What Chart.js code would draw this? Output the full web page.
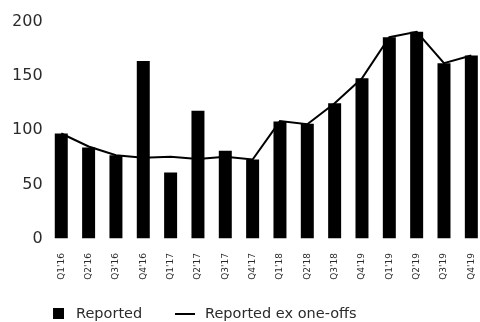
<!DOCTYPE html>
<html>
<head>
<meta charset="utf-8">
<script src="https://cdn.jsdelivr.net/npm/chart.js@4.4.1/dist/chart.umd.min.js"></script>
<style>
  html, body { margin: 0; padding: 0; background: #fff; overflow: hidden; }
  #wrap { position: relative; width: 486px; height: 331px; }
</style>
</head>
<body>
<div id="wrap"><canvas id="chart"></canvas></div>
<script>
// Quarterly figures
const quarters = ["Q1'16", "Q2'16", "Q3'16", "Q4'16", "Q1'17", "Q2'17", "Q3'17", "Q4'17",
                  "Q1'18", "Q2'18", "Q3'18", "Q4'19", "Q1'19", "Q2'19", "Q3'19", "Q4'19"];
const reported   = [97, 84, 77, 164, 61, 118, 81, 73, 108, 106, 125, 148, 186, 191, 162, 169];
const exOneOffs  = [97, 85, 77, 74.5, 75.5, 73.5, 75.5, 73, 108.5, 105.5, 125, 148, 186, 191, 162, 169];
const seriesNames = ['Reported', 'Reported ex one-offs'];
const yTicks = [0, 50, 100, 150, 200];

const FONT = '"DejaVu Sans", sans-serif';
const TEXT = '#2b2b2b';
const LEGEND_SIZE = 14.5;

// Legend geometry: box slot width and spacing derived from the measured label width
const meas = document.createElement('canvas').getContext('2d');
meas.font = LEGEND_SIZE + 'px ' + FONT;
const firstW = meas.measureText(seriesNames[0]).width;
const legPad = 10;
const half = LEGEND_SIZE / 2;
const text1X = 76, text2X = 205;
const slot = text2X - text1X - firstW - half - legPad;
const leftPad = text1X - half - legPad - slot;
const plotLeft = 47.6;

function makeSwatch(center, from, to, h) {
  const w = Math.max(2, Math.round(2 * (to - center)));
  const c = document.createElement('canvas');
  c.width = w; c.height = h;
  const g = c.getContext('2d');
  g.fillStyle = '#000';
  const x0 = from - (center - w / 2);
  g.fillRect(x0, 0, to - from, h);
  return c;
}
const c1 = leftPad + legPad + slot / 2;
const c2 = text2X - half - slot / 2;
const rectSwatch = makeSwatch(c1, 53, 64, 11);
const lineSwatch = makeSwatch(c2, 175, 195, 2);

new Chart(document.getElementById('chart'), {
  type: 'bar',
  data: {
    labels: quarters,
    datasets: [
      {
        type: 'line',
        label: seriesNames[1],
        data: exOneOffs,
        borderColor: '#000',
        borderWidth: 2,
        pointRadius: 0,
        tension: 0,
        fill: false,
        order: 0
      },
      {
        type: 'bar',
        label: seriesNames[0],
        data: reported,
        backgroundColor: '#000',
        barPercentage: 0.475,
        categoryPercentage: 1,
        order: 1
      }
    ]
  },
  options: {
    responsive: true,
    maintainAspectRatio: false,
    animation: false,
    layout: { padding: { top: 22, left: leftPad, right: 1, bottom: 0 } },
    plugins: {
      tooltip: { enabled: false },
      legend: {
        position: 'bottom',
        align: 'start',
        labels: {
          usePointStyle: true,
          pointStyleWidth: slot,
          padding: legPad,
          color: TEXT,
          font: { family: FONT, size: LEGEND_SIZE },
          generateLabels: () => [
            { text: seriesNames[0], pointStyle: rectSwatch, fillStyle: '#000', strokeStyle: '#000', lineWidth: 0, hidden: false, datasetIndex: 1, fontColor: TEXT },
            { text: seriesNames[1], pointStyle: lineSwatch, fillStyle: '#000', strokeStyle: '#000', lineWidth: 0, hidden: false, datasetIndex: 0, fontColor: TEXT }
          ]
        }
      }
    },
    scales: {
      x: {
        grid: { display: false, drawTicks: false },
        border: { display: false },
        ticks: {
          autoSkip: false,
          minRotation: 90,
          maxRotation: 90,
          padding: 14.5,
          color: TEXT,
          font: { family: FONT, size: 9 }
        },
        afterFit: (s) => { s.height = 58; s.paddingLeft = 0; s.paddingRight = 0; }
      },
      y: {
        min: 0,
        max: 200,
        grid: { display: false, drawTicks: false },
        border: { display: false },
        afterBuildTicks: (s) => { s.ticks = yTicks.map(v => ({ value: v })); },
        ticks: {
          padding: 5,
          color: TEXT,
          font: { family: FONT, size: 16 }
        },
        afterFit: (s) => { s.width = plotLeft - leftPad; }
      }
    }
  }
});
</script>
</body>
</html>
